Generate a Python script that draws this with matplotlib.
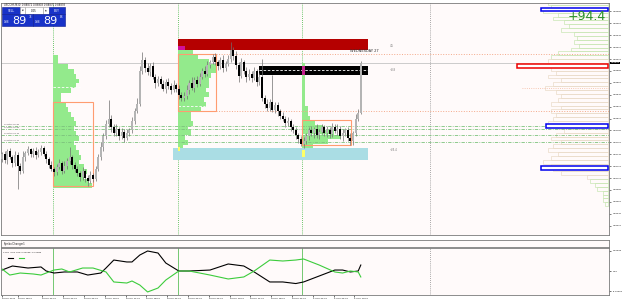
import matplotlib
matplotlib.use("Agg")
import matplotlib.pyplot as plt
import matplotlib.transforms as mtransforms
from matplotlib.patches import Rectangle
import numpy as np

# ---- price data (USDCHF M30, prices in points: 88893 -> 0.88893) ----
closes = [88740, 88730, 88745, 88735, 88725, 88738, 88720, 88712,
          88735, 88742, 88748, 88740, 88745, 88738, 88744, 88750, 88741,
          88732, 88722, 88715, 88710,
          88718, 88725, 88712, 88720, 88728, 88735, 88722, 88715,
          88708, 88702, 88712, 88700, 88695, 88705, 88698,
          88715, 88735, 88752, 88770, 88790, 88800,
          88785, 88775, 88782, 88770, 88778, 88768, 88775, 88780,
          88795, 88812, 88825,
          88880, 88898,
          88885, 88878, 88888, 88870, 88860, 88866,
          88858, 88850, 88862, 88855, 88848, 88856, 88850,
          88840, 88834, 88838,
          88848, 88860, 88852, 88865, 88858, 88870,
          88880, 88875, 88890, 88895, 88903,
          88895, 88888, 88898, 88885, 88892, 88900,
          88915,
          88905, 88890, 88872, 88895, 88880, 88870,
          88875, 88868, 88880, 88862, 88870,
          88835,
          88825, 88818, 88828, 88815, 88822, 88812,
          88805, 88800, 88792, 88795, 88785, 88780,
          88772, 88765, 88758, 88762,
          88770, 88780, 88775, 88782, 88772, 88778, 88785, 88776,
          88780, 88774, 88786, 88779, 88783, 88770, 88776, 88780,
          88768, 88762, 88775,
          88800, 88810, 88893]
first_open = 88732
up_wick = [4, 6, 3, 5, 4, 8, 5, 6,
           10, 4, 6, 3, 5, 7, 4, 6, 3,
           5, 4, 6, 3,
           5, 7, 4, 8, 5, 17, 4, 5,
           6, 4, 7, 3, 5, 6, 4,
           5, 6, 8, 5, 7, 31,
           6, 5, 8, 4, 6, 5, 7, 4,
           8, 6, 10,
           8, 14,
           6, 9, 5, 7, 4, 6,
           5, 7, 4, 6, 5, 8, 4,
           6, 5, 7,
           8, 5, 9, 4, 6, 7,
           5, 8, 6, 4, 5,
           7, 4, 6, 8, 5, 7,
           13,
           6, 8, 5, 7, 4, 6,
           9, 5, 7, 4, 6,
           30,
           5, 7, 4, 45, 6, 5,
           4, 6, 5, 7, 4, 5,
           6, 4, 5, 7,
           6, 5, 7, 4, 8, 5, 6, 4,
           7, 5, 6, 4, 8, 5, 6, 4,
           5, 7, 4,
           8, 6, 3]
dn_wick = [5, 4, 6, 3, 7, 4, 38, 5,
           4, 6, 3, 5, 4, 6, 3, 5, 4,
           6, 5, 4, 7,
           5, 3, 6, 4, 5, 4, 6, 5,
           4, 7, 5, 6, 9, 4, 5,
           3, 4, 5, 6, 4, 5,
           7, 5, 4, 6, 5, 8, 4, 5,
           4, 5, 3,
           4, 5,
           6, 5, 7, 4, 8, 5,
           6, 4, 7, 5, 6, 4, 5,
           7, 5, 4,
           5, 6, 4, 7, 5, 4,
           3, 6, 4, 5, 4,
           5, 7, 4, 6, 5, 4,
           5,
           6, 7, 10, 4, 6, 8,
           5, 6, 4, 7, 5,
           6,
           7, 5, 6, 4, 5, 8,
           6, 5, 7, 4, 6, 5,
           7, 6, 5, 8,
           5, 6, 4, 7, 5, 6, 4, 5,
           7, 6, 5, 4, 6, 5, 8, 6,
           5, 7, 6,
           4, 5, 3]
bid = 88893

# x axis labels
tick_bars = [0, 6, 15.5, 23.5, 31.5, 39.5, 47.5, 55.5, 63.5, 71.5, 79.5,
             87.5, 95.5, 103.5, 111.5, 119.5, 127.5, 135.5]
tick_labels = ["22 Jan 2021", "22 Jan 18:00", "22 Jan 22:00", "25 Jan 02:00",
               "25 Jan 06:00", "25 Jan 10:00", "25 Jan 14:00", "25 Jan 18:00",
               "25 Jan 22:00", "26 Jan 02:00", "26 Jan 06:00", "26 Jan 10:00",
               "26 Jan 14:00", "26 Jan 18:00", "26 Jan 22:00", "27 Jan 02:00",
               "27 Jan 06:00", "27 Jan 10:00"]
day_starts = [19.5, 67.5, 115.5]
future_line = 164.6

# daily volume profiles (anchor bar, top price, widths per 8-point level)
prof_anchor = [19.5, 67.5, 115.5]
prof_top = [88907, 88924, 88893]
prof1 = [2, 2, 6, 8, 9, 10, 9, 7, 3, 3, 5, 6, 7, 8, 9, 8, 9, 10, 8, 9, 10, 11,
         10, 12, 13, 12, 14, 15]
prof2 = [3, 6, 8, 12, 15, 15, 13, 12, 12, 11, 12, 10, 11, 9, 5, 5, 6, 4, 5, 3,
         4, 2]
prof3 = [1, 1, 1, 1, 1, 1, 1, 1, 1, 2, 2, 3, 5, 8, 12, 15, 10, 4]
prof_poc = [88853, 88821, 88774]
# value area boxes: bar start, bar end, low, high
va_boxes = [(19.5, 35.0, 88687, 88828),
            (67.5, 82.3, 88813, 88908),
            (115.5, 134.2, 88756, 88798)]

# zones: bar start, bar end, low, high, colour
zones = [(67.5, 140.8, 88915, 88934, "#b50000"),
         (98.8, 140.8, 88873, 88888, "#000000"),
         (65.8, 140.8, 88730, 88750, "#aadde4")]
zone_labels = ["4.5", "+8.8", "+25.4"]
zone_label_prices = [88922, 88882, 88747]
pivot_levels = [88787, 88783, 88773, 88760]
pivot_names = ["#PivotR1 5x 0.85", "#PivotR2 5x 0.85", "#PivotS1 5x 0.85",
               "#PivotS2 5x 0.85"]

# right-hand session profile (top price, step, widths in bars)
rp_top = 88994
rp_step = 6.5
rp_widths = [23, 22, 25, 19, 21, 17, 15, 18, 13, 12, 13, 11, 14, 19, 22, 23,
             34, 22, 20, 23, 18, 21, 24, 20, 18, 19, 22, 18, 22, 20, 21, 23,
             19, 17, 20, 22, 18, 21, 23, 19, 22, 25, 22, 21, 18, 8, 7, 5, 4,
             2, 2, 2, 1]
poc_rects = [(207.3, 88981, 88986, "#0000ee"),
             (198.0, 88885, 88892, "#ee0000"),
             (209.2, 88784, 88791, "#0000ee"),
             (207.3, 88714, 88720, "#0000ee")]

# CCFp currency strength lines (x 1e-5)
usd_bars = [0, 4, 10, 15, 17, 20, 24, 29, 33, 38, 40, 43, 48, 50, 53, 56, 60,
            63, 68, 72, 80, 87, 93, 97, 103, 108, 113, 116, 122, 128, 131, 134,
            137, 138]
usd = [11, 57, 34, 46, 0, -23, -11, -11, -46, -23, 34, 125, 103, 103, 182, 228,
       205, 91, 0, 0, 11, 80, 57, -11, -125, -125, -143, -125, -57, 11, 11,
       -11, 0, 68]
chf_bars = [0, 3, 7, 12, 15, 20, 23, 26, 31, 35, 40, 43, 48, 50, 53, 56, 60,
            63, 68, 72, 80, 87, 93, 97, 103, 108, 113, 116, 122, 128, 131, 134,
            137, 138]
chf = [23, -46, -23, -34, -46, 11, 23, -11, 34, 34, -11, -125, -137, -114,
       -160, -239, -194, -103, 0, 0, -46, -91, -68, 0, 125, 114, 125, 137, 68,
       -11, -23, 0, -11, -68]

BG = "#fffafa"
W, H = 625, 301
fig = plt.figure(figsize=(6.25, 3.01), dpi=100, facecolor="white")


def pax(x0, y0, x1, y1):
    return fig.add_axes([x0 / W, 1 - y1 / H, (x1 - x0) / W, (y1 - y0) / H])


XL = (-0.385, 233.46)
main = pax(1, 3, 609, 235)
sep = pax(1, 240, 609, 247)
low = pax(1, 248, 609, 295)
for a in (main, sep, low):
    a.set_facecolor(BG)
    a.set_xlim(*XL)
    for s in a.spines.values():
        s.set_color("#7a7a7a")
        s.set_linewidth(0.6)

# ---------------- main chart ----------------
main.set_ylim(88604.3, 88994.1)
c = np.array(closes)
o = np.array([first_open] + closes[:-1])
x = np.arange(len(c))
top = np.maximum(o, c)
bot = np.minimum(o, c)
hi = top + np.array(up_wick)
lo = bot - np.array(dn_wick)

# profiles
for anc, ptop, w in zip(prof_anchor, prof_top, [prof1, prof2, prof3]):
    lv = ptop - 4 - 8 * np.arange(len(w))
    main.barh(lv, w, height=8, left=anc, color="#93ea8c", edgecolor="none",
              zorder=1)
for anc, poc, w in zip(prof_anchor, prof_poc, [prof1, prof2, prof3]):
    main.hlines(poc, anc, anc + max(w) * 0.7, color="white", lw=0.6,
                linestyles=(0, (3, 2)), zorder=1.5)
for b0, b1, l, h in va_boxes:
    main.add_patch(Rectangle((b0, l), b1 - b0, h - l, fill=False,
                             ec="#ff9c70", lw=0.8, zorder=2))

# zones
for b0, b1, l, h, col in zones:
    main.add_patch(Rectangle((b0, l), b1 - b0, h - l, fc=col, ec="none",
                             zorder=1.8))
main.hlines(88881, 98.8, 140.8, color="white", lw=0.6,
            linestyles=(0, (3, 2)), zorder=1.9)
main.add_patch(Rectangle((67.5, 88915), 3, 7, fc="#d0109a", ec="none",
                         zorder=1.9))
main.add_patch(Rectangle((115.5, 88873), 1.2, 15, fc="#c0208a", ec="none",
                         zorder=1.9))
main.add_patch(Rectangle((67.5, 88745), 1.0, 7, fc="#ffff66", ec="none",
                         zorder=2.5))
main.add_patch(Rectangle((115.5, 88735), 1.0, 12, fc="#ffff66", ec="none",
                         zorder=2.5))
for t, p in zip(zone_labels, zone_label_prices):
    main.text(149, p, t, fontsize=1.8, color="#707070", va="center")
main.text(133.8, 88913, "WEDNESDAY 27", fontsize=2.6, color="#303030",
          va="center")

# right session profile
rl = rp_top - rp_step * np.arange(len(rp_widths))
rcol = ["#c9e6b4" if (p > 88900 or p < 88700) else "#eadbc8" for p in rl]
main.barh(rl, rp_widths, height=rp_step, left=233 - np.array(rp_widths),
          fc="none", ec=rcol, lw=0.5, zorder=1)
for b0, l, h, col in poc_rects:
    main.add_patch(Rectangle((b0, l), 233 - b0, h - l, fc="white", ec=col,
                             lw=1.1, zorder=2))
main.text(225, 88972, "+94.4", fontsize=9, color="#2a8f2a", ha="center",
          va="center", zorder=4)

# horizontal levels
main.axhline(bid, color="#c4c4c4", lw=0.6, zorder=0.5)
for p in [88908, 88813]:
    main.hlines(p, 82.3, XL[1], color="#f4a98a", lw=0.7, linestyles=":",
                zorder=1.2)
main.hlines(88851, 200, XL[1], color="#f4b89e", lw=0.6, linestyles=":",
            zorder=1.2)
for p, n in zip(pivot_levels, pivot_names):
    main.axhline(p, color="#7cc27c", lw=0.6, ls=(0, (4, 1.5, 1, 1.5)),
                 zorder=1.3)
    main.text(0.8, p + 1.5, n, fontsize=1.3, color="#505050", va="bottom")

# day separators
for d in day_starts:
    main.axvline(d, color="#3cb43c", lw=0.6, ls=(0, (1, 1.5)), zorder=0.6)
main.axvline(future_line, color="#8c8c8c", lw=0.6, ls=(0, (1, 1.5)),
             zorder=0.6)

# candles
main.vlines(x, lo, hi, color="#707070", lw=0.5, zorder=3)
bull = c >= o
hgt = np.maximum(top - bot, 1.5)
main.bar(x[bull], hgt[bull], bottom=bot[bull], width=0.7, color="#b4b4b4",
         zorder=3.5)
main.bar(x[~bull], hgt[~bull], bottom=bot[~bull], width=0.7, color="black",
         zorder=3.5)

main.yaxis.tick_right()
yt = np.arange(88620, 88981, 20)
main.set_yticks(yt, ["0.%05d" % v for v in yt])
main.set_xticks([])
main.tick_params(axis="y", labelsize=1.6, length=1.5, width=0.4, pad=1,
                 colors="#202020")
tr = mtransforms.blended_transform_factory(main.transAxes, main.transData)
main.text(1.003, bid + 1, "0.%05d" % bid, transform=tr, fontsize=1.6,
          color="white", va="center", zorder=6,
          bbox=dict(boxstyle="square,pad=0.25", fc="black", ec="none"))

# ---------------- separator ----------------
sep.set_xticks([])
sep.set_yticks([])
sep.text(0.004, 0.5, "SymbolChanger1", transform=sep.transAxes, fontsize=1.8,
         va="center", color="#202020")

# ---------------- CCFp panel ----------------
low.set_ylim(-273.6, 262.2)
for d in day_starts:
    low.axvline(d, color="#3cb43c", lw=0.5, zorder=0.6)
low.axvline(future_line, color="#8c8c8c", lw=0.6, ls=(0, (1, 1.5)))
low.plot(usd_bars, usd, color="black", lw=0.8)
low.plot(chf_bars, chf, color="#3ccc3c", lw=0.8)
low.text(0.004, 0.9, "CCFp  USD CHF 0.00088 -0.00088", transform=low.transAxes,
         fontsize=1.6, va="center", color="#202020")
low.plot([0.012, 0.02], [0.78, 0.78], color="black", lw=0.8,
         transform=low.transAxes)
low.plot([0.03, 0.038], [0.78, 0.78], color="#3ccc3c", lw=0.8,
         transform=low.transAxes)
low.yaxis.tick_right()
low.set_yticks([233, 0, -233], ["0.00233", "0.00", "-0.00233"])
low.tick_params(axis="y", labelsize=1.6, length=1.5, width=0.4, pad=1)
low.set_xticks(tick_bars, tick_labels)
low.tick_params(axis="x", labelsize=1.6, length=1.5, width=0.4, pad=1)
for lab in low.get_xticklabels():
    lab.set_horizontalalignment("left")

# ---------------- overlay: title and one-click panel ----------------
ov = fig.add_axes([0, 0, 1, 1], zorder=10)
ov.set_xlim(0, W)
ov.set_ylim(H, 0)
ov.axis("off")
ov.patch.set_alpha(0)
ov.text(4, 4.5, "USDCHF,M30  0.88872 0.88903 0.88870 0.88893", fontsize=1.8,
        va="center", color="#202020")
blue = "#1832c8"
ov.add_patch(Rectangle((2, 7), 18, 7, fc=blue, ec="#0a1a90", lw=0.4))
ov.text(11, 10.5, "SELL", fontsize=2.2, color="white", ha="center", va="center")
ov.add_patch(Rectangle((20, 7), 5, 7, fc="white", ec="#a0a0a0", lw=0.4))
ov.text(22.5, 10.5, "\u25bc", fontsize=1.6, ha="center", va="center")
ov.add_patch(Rectangle((25, 7), 18, 7, fc="white", ec="#a0a0a0", lw=0.4))
ov.text(34, 10.5, "0.05", fontsize=2.0, ha="center", va="center")
ov.add_patch(Rectangle((43, 7), 6, 7, fc="white", ec="#a0a0a0", lw=0.4))
ov.text(46, 10.5, "\u25b2", fontsize=1.6, ha="center", va="center")
ov.add_patch(Rectangle((49, 7), 16, 7, fc=blue, ec="#0a1a90", lw=0.4))
ov.text(57, 10.5, "BUY", fontsize=2.2, color="white", ha="center", va="center")
for x0, sup in [(2, "3"), (33, "8")]:
    ov.add_patch(Rectangle((x0, 14), 31 if x0 == 2 else 32, 12, fc=blue,
                           ec="#0a1a90", lw=0.4))
    ov.text(x0 + 2, 22, "0.88", fontsize=1.8, color="white", va="center")
    ov.text(x0 + 17, 20.5, "89", fontsize=8, color="white", ha="center",
            va="center")
    ov.text(x0 + 26.5, 17.5, sup, fontsize=3, color="white", va="center")

fig.savefig("out.png", dpi=100, facecolor="white")
